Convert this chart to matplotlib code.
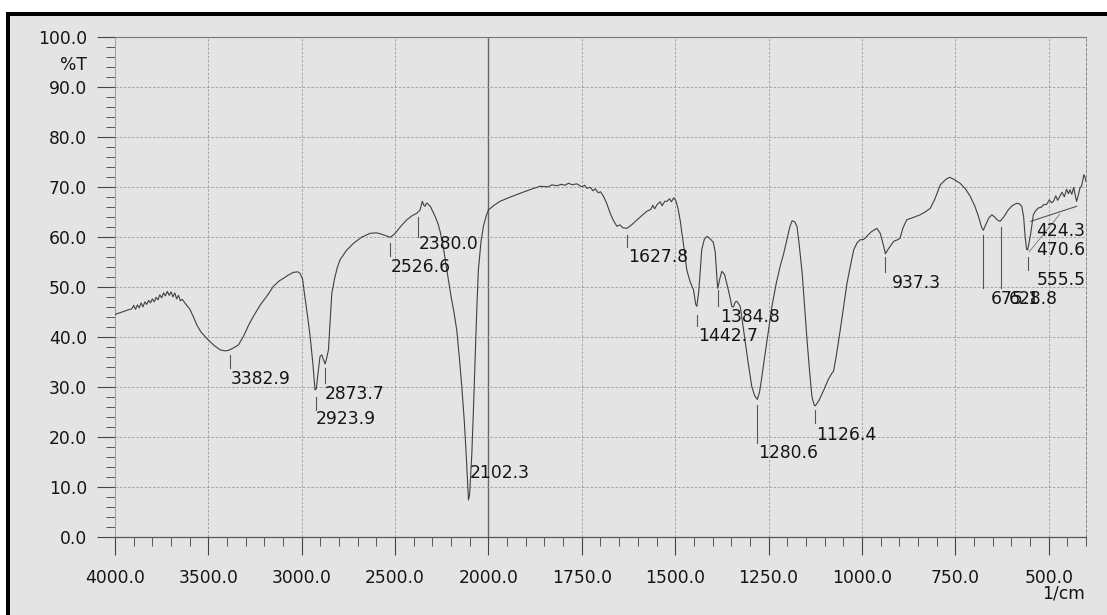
import numpy as np
import matplotlib
matplotlib.use("Agg")
import matplotlib.pyplot as plt
from matplotlib.patches import Rectangle
from matplotlib.ticker import FixedLocator, FormatStrFormatter

# ---------------- data ----------------
wavenumber = [
    4000, 3960, 3930, 3910, 3900, 3890, 3880, 3870, 3860, 3850, 3840, 3830, 3820, 3810,
    3800, 3790, 3780, 3770, 3760, 3750, 3740, 3730, 3720, 3710, 3700, 3690, 3680, 3670,
    3660, 3650, 3640, 3620, 3600, 3580, 3562, 3540, 3509, 3470, 3437, 3410, 3393, 3370,
    3339, 3312, 3285, 3259, 3220, 3180, 3152, 3120, 3098, 3070, 3045, 3020, 3009, 2995,
    2985, 2970, 2955, 2940, 2929, 2922, 2912, 2902, 2893, 2884, 2875, 2866, 2857, 2848,
    2839, 2825, 2810, 2795, 2760, 2723, 2680, 2634, 2600, 2580, 2555, 2527, 2505, 2491,
    2465, 2437, 2410, 2384, 2366, 2358, 2354, 2346, 2339, 2333, 2327, 2310, 2286, 2270,
    2259, 2240, 2223, 2200, 2185, 2170, 2155, 2143, 2130, 2120, 2112, 2107, 2101, 2095,
    2089, 2080, 2071, 2062, 2054, 2040, 2027, 2012, 2000, 1985, 1969, 1940, 1915, 1890,
    1862, 1840, 1830, 1817, 1805, 1795, 1786, 1775, 1764, 1750, 1742, 1737, 1728, 1720,
    1714, 1706, 1700, 1692, 1684, 1674, 1665, 1656, 1648, 1640, 1629, 1615, 1602, 1590,
    1576, 1565, 1560, 1555, 1549, 1540, 1535, 1528, 1522, 1515, 1510, 1504, 1498, 1492,
    1486, 1482, 1475, 1469, 1460, 1451, 1445, 1442, 1437, 1433, 1429, 1422, 1415, 1405,
    1398, 1393, 1388, 1386, 1381, 1375, 1368, 1362, 1355, 1348, 1344, 1339, 1335, 1330,
    1326, 1319, 1312, 1305, 1295, 1287, 1280, 1274, 1270, 1263, 1255, 1241, 1230, 1219,
    1210, 1201, 1193, 1187, 1180, 1174, 1168, 1160, 1154, 1147, 1140, 1134, 1128, 1125,
    1115, 1102, 1090, 1080, 1076, 1068, 1058, 1048, 1040, 1030, 1022, 1013, 1005, 995,
    987, 975, 960, 951, 943, 937, 930, 915, 905, 898, 890, 880, 865, 844,
    830, 817, 805, 790, 775, 765, 752, 737, 722, 710, 698, 688, 680, 675,
    668, 660, 652, 645, 638, 630, 620, 608, 598, 586, 578, 572, 567, 563,
    559, 556, 552, 548, 541, 535, 527, 520, 514, 505, 498, 492, 487, 481,
    476, 470, 464, 458, 452, 447, 443, 438, 433, 428, 425, 420, 416, 412,
    408, 406, 403, 400,
]
transmittance = [
    44.5, 45.0, 45.4, 45.6, 46.3, 45.5, 46.4, 45.8, 46.8, 46.0, 47.0, 46.5, 47.3, 46.8,
    47.6, 47.0, 47.9, 47.4, 48.4, 47.8, 48.8, 48.2, 49.1, 48.3, 49.0, 48.0, 48.8, 47.6,
    48.3, 47.2, 47.5, 46.5, 45.6, 44.0, 42.4, 41.0, 39.7, 38.3, 37.4, 37.2, 37.3, 37.7,
    38.4, 40.1, 42.3, 44.1, 46.5, 48.5, 50.1, 51.2, 51.7, 52.4, 52.9, 53.0, 52.7, 51.5,
    48.5, 44.5, 40.1, 34.5, 29.4, 29.6, 33.0, 36.1, 36.4, 35.5, 34.6, 35.8, 37.4, 43.0,
    48.7, 51.5, 53.8, 55.4, 57.3, 58.7, 59.9, 60.7, 60.8, 60.6, 60.3, 59.9, 60.5, 61.1,
    62.3, 63.4, 64.2, 64.7, 65.4, 66.6, 67.1, 66.3, 66.1, 66.7, 66.7, 66.0, 64.1, 62.6,
    61.1, 57.5, 53.4, 48.0, 45.0, 41.4, 35.5, 30.1, 23.5, 17.0, 11.0, 7.4, 8.5, 12.5,
    16.7, 26.0, 36.1, 46.0, 53.4, 59.0, 62.1, 64.2, 65.4, 66.3, 67.1, 68.0, 68.7, 69.4,
    70.1, 70.0, 70.4, 70.2, 70.5, 70.3, 70.7, 70.4, 70.6, 70.0, 70.3, 69.7, 69.9, 69.2,
    69.6, 68.8, 69.0, 68.1, 66.8, 64.7, 63.2, 62.1, 62.4, 61.8, 61.7, 62.5, 63.4, 64.2,
    65.1, 65.5, 66.3, 65.6, 66.4, 67.0, 66.2, 67.1, 67.1, 67.6, 67.0, 67.8, 67.2, 65.5,
    63.0, 60.7, 57.0, 53.4, 51.0, 49.4, 46.5, 46.1, 49.0, 53.0, 57.4, 59.5, 60.1, 59.5,
    58.9, 57.1, 51.5, 49.7, 51.5, 53.1, 52.5, 50.7, 48.5, 46.0, 46.0, 47.0, 47.1, 46.6,
    46.1, 42.5, 38.7, 35.0, 30.1, 28.2, 27.5, 29.0, 31.0, 34.7, 38.8, 46.1, 50.5, 54.1,
    56.5, 59.4, 62.0, 63.2, 63.0, 62.1, 58.5, 52.7, 46.5, 39.4, 33.0, 28.1, 26.4, 26.2,
    27.3, 29.4, 31.5, 32.8, 33.1, 36.5, 41.4, 46.5, 50.7, 54.5, 57.4, 58.8, 59.4, 59.5,
    60.1, 61.0, 61.7, 60.7, 58.5, 56.6, 57.5, 59.1, 59.4, 59.7, 61.8, 63.4, 63.8, 64.4,
    65.0, 65.7, 67.5, 70.4, 71.5, 71.9, 71.4, 70.7, 69.5, 68.1, 66.2, 64.1, 62.0, 61.3,
    62.5, 63.8, 64.4, 64.0, 63.4, 63.1, 64.0, 65.4, 66.2, 66.7, 66.6, 66.1, 64.0, 60.0,
    57.5, 57.4, 59.0, 60.7, 64.4, 65.2, 65.8, 65.9, 66.4, 66.5, 67.4, 66.8, 67.1, 68.2,
    67.3, 68.1, 68.9, 68.0, 69.5, 68.6, 69.4, 68.5, 69.9, 68.0, 67.1, 68.5, 69.8, 70.1,
    71.5, 72.4, 72.0, 71.1,
]

peak_wavenumbers = [3382.9, 2923.9, 2873.7, 2526.6, 2380.0, 2102.3, 1627.8, 1442.7,
                    1384.8, 1280.6, 1126.4, 937.3, 675.1, 628.8, 555.5, 470.6, 424.3]
peak_labels = ["3382.9", "2923.9", "2873.7", "2526.6", "2380.0", "2102.3", "1627.8",
               "1442.7", "1384.8", "1280.6", "1126.4", "937.3", "675.1", "628.8",
               "555.5", "470.6", "424.3"]

x_major_ticks = [4000, 3500, 3000, 2500, 2000, 1750, 1500, 1250, 1000, 750, 500]
y_major_ticks = [0, 10, 20, 30, 40, 50, 60, 70, 80, 90, 100]

# ---------------- layout (positions of annotation texts / marker lines) ----------------
label_text_x = [3378.6, 2923.2, 2875.0, 2521.5, 2375.3, 2098.3, 1624.9, 1437.4,
                1379.3, 1277.5, 1122.1, 919.3, 655.9, 607.7, 532.7, 532.7, 532.7]
label_text_y = [31.6, 23.6, 28.6, 53.9, 58.6, 12.7, 55.9, 40.1,
                43.9, 16.7, 20.4, 50.7, 47.5, 47.5, 51.3, 57.4, 61.2]
mark_top = [36.4, 28.0, 33.8, 58.7, 64.0, None, 60.4, 44.4,
            49.4, 26.4, 25.4, 56.0, 60.4, 62.0, 56.0, None, None]
mark_bottom = [33.8, 25.4, 30.8, 56.1, 60.0, None, 58.0, 42.1,
               46.1, 18.7, 22.8, 53.0, 49.8, 49.7, 53.4, None, None]

W, H = 1107, 615
BG = "#e4e4e4"
FS = 12.3

plt.rcParams["font.family"] = ["DejaVu Sans"]


def fwd(x):
    x = np.asarray(x, dtype=float)
    return np.where(x > 2000, 2000 + (x - 2000) / 2.0, x)


def inv(u):
    u = np.asarray(u, dtype=float)
    return np.where(u > 2000, 2000 + (u - 2000) * 2.0, u)


fig = plt.figure(figsize=(W / 100, H / 100), dpi=100, facecolor=BG)

# white margin + black frame (scanned page edge)
fig.add_artist(Rectangle((0, (H - 12) / H), 1, 12 / H, transform=fig.transFigure,
                         facecolor="white", edgecolor="none", zorder=-5))
fig.add_artist(Rectangle((0, 0), 6 / W, 1, transform=fig.transFigure,
                         facecolor="white", edgecolor="none", zorder=-5))
fig.add_artist(Rectangle((6 / W, (H - 16) / H), 1, 4 / H, transform=fig.transFigure,
                         facecolor="black", edgecolor="none", zorder=-4))
fig.add_artist(Rectangle((6 / W, 0), 4 / W, (H - 12) / H, transform=fig.transFigure,
                         facecolor="black", edgecolor="none", zorder=-4))

ax = fig.add_axes([115 / W, 78 / H, (1086 - 115) / W, (537 - 36.7) / H])
ax.set_facecolor(BG)
ax.set_xscale("function", functions=(fwd, inv))
ax.set_xlim(4000, 400)
ax.set_ylim(0, 100)

# grid
for xv in x_major_ticks:
    if xv == 2000:
        ax.axvline(xv, color="#666666", lw=1.0, zorder=1)
    else:
        ax.axvline(xv, color="#9a9a9a", lw=0.6, ls=(0, (3, 2)), zorder=1)
for yv in y_major_ticks[1:-1]:
    ax.axhline(yv, color="#9a9a9a", lw=0.6, ls=(0, (3, 2)), zorder=1)

# spectrum
ax.plot(wavenumber, transmittance, color="#404040", lw=0.8, zorder=3)

# peak markers and labels
for i, lab in enumerate(peak_labels):
    if mark_top[i] is not None:
        ax.plot([peak_wavenumbers[i], peak_wavenumbers[i]], [mark_bottom[i], mark_top[i]],
                color="#555555", lw=0.8, zorder=2)
    ax.text(label_text_x[i], label_text_y[i], lab, ha="left", va="center",
            fontsize=FS, color="#151515", zorder=4)

# leader lines for the two last labels
ax.plot([548, 425], [63.1, 66.1], color="#555555", lw=0.8, zorder=2)
ax.plot([552, 470.6], [57.0, 64.5], color="#777777", lw=0.6, zorder=2)

# ticks
ax.xaxis.set_major_locator(FixedLocator(x_major_ticks))
x_minor = [v for v in list(range(3900, 2000, -100)) + list(range(1950, 399, -50))
           if v not in x_major_ticks]
ax.xaxis.set_minor_locator(FixedLocator(x_minor))
ax.xaxis.set_major_formatter(FormatStrFormatter("%.1f"))
ax.xaxis.set_minor_formatter(FormatStrFormatter(""))
ax.yaxis.set_major_locator(FixedLocator(y_major_ticks))
ax.yaxis.set_minor_locator(FixedLocator([v for v in range(2, 100, 2) if v % 10]))
ax.yaxis.set_major_formatter(FormatStrFormatter("%.1f"))

ax.tick_params(axis="both", which="major", direction="out", length=13, width=0.8,
               color="#444444", labelsize=FS, labelcolor="#151515")
ax.tick_params(axis="x", which="major", pad=10)
ax.tick_params(axis="y", which="major", pad=7)
ax.tick_params(axis="both", which="minor", direction="out", length=6.5, width=0.7,
               color="#555555")

for side, col, lw in [("top", "#777777", 0.8), ("left", "#999999", 0.6),
                      ("right", "#888888", 0.7), ("bottom", "#555555", 0.9)]:
    ax.spines[side].set_color(col)
    ax.spines[side].set_linewidth(lw)
ax.spines["right"].set_linestyle((0, (3, 2)))

fig.text(87 / W, (H - 65) / H, "%T", ha="right", va="center", fontsize=FS, color="#151515")
fig.text(1085 / W, (H - 594) / H, "1/cm", ha="right", va="center", fontsize=FS,
         color="#151515")

fig.savefig("out.png", dpi=100, facecolor=BG)
